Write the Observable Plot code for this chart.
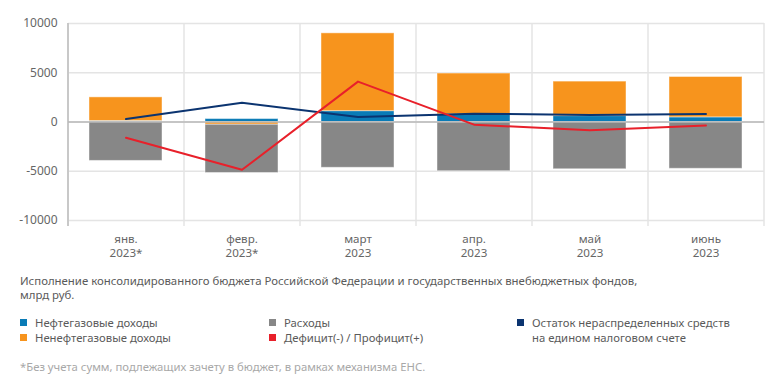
<!DOCTYPE html>
<html>
<head>
<meta charset="utf-8">
<script src="https://cdn.jsdelivr.net/npm/d3@7"></script>
<script src="https://cdn.jsdelivr.net/npm/@observablehq/plot@0.6"></script>
<style>
  body { margin: 0; background: #fff; font-family: "Noto Sans", "Open Sans", sans-serif; }
  #wrap { position: relative; width: 784px; height: 391px; }
  #chart { position: absolute; left: 0; top: 0; }
  .txt { position: absolute; font-size: 11.4px; color: #5a5a5a; white-space: nowrap; line-height: 14px; }
  .leg { position: absolute; font-size: 11.3px; color: #5a5a5a; white-space: nowrap; line-height: 15px; }
  .sw { position: absolute; width: 7px; height: 7px; }
  .note { position: absolute; font-size: 11.3px; color: #a8a8a8; white-space: nowrap; }
</style>
</head>
<body>
<div id="wrap">
  <div id="chart"></div>
</div>
<script>
// ---- data ----
const months = ["янв.\n2023*", "февр.\n2023*", "март\n2023", "апр.\n2023", "май\n2023", "июнь\n2023"];
const oilGas = [100, 300, 1100, 770, 600, 470];          // Нефтегазовые доходы
const nonOilGas = [2400, -280, 7900, 4150, 3500, 4100];  // Ненефтегазовые доходы
const expenses = [-3950, -4900, -4650, -5000, -4800, -4750]; // Расходы
const balance = [-1600, -4850, 4100, -270, -850, -350];  // Дефицит(-) / Профицит(+)
const ens = [300, 1950, 500, 850, 720, 810];             // Остаток на ЕНС
const yTicks = [-10000, -5000, 0, 5000, 10000];

const seriesNames = ["Нефтегазовые доходы", "Ненефтегазовые доходы", "Расходы"];
const seriesColors = ["#0a7bb6", "#f7941d", "#878787"];
const lineColors = {bal: "#e8202a", ens: "#0b3470"};

const bars = [];
months.forEach((m, i) => {
  bars.push({month: m, series: seriesNames[0], value: oilGas[i]});
  bars.push({month: m, series: seriesNames[1], value: nonOilGas[i]});
  bars.push({month: m, series: seriesNames[2], value: expenses[i]});
});
const lines = months.map((m, i) => ({month: m, bal: balance[i], ens: ens[i]}));

const W = 784, H = 262, ML = 68, MR = 20, MT = 23, MB = 42;
const step = (W - ML - MR) / months.length;

const chart = Plot.plot({
  width: W, height: H,
  marginLeft: ML, marginRight: MR, marginTop: MT, marginBottom: MB,
  style: {fontFamily: "'Noto Sans', 'Open Sans', sans-serif", background: "#fff"},
  x: {domain: months, paddingInner: 0.37, paddingOuter: 0.185, axis: null, label: null},
  y: {domain: [-10000, 10000], axis: null, label: null},
  color: {domain: seriesNames, range: seriesColors},
  marks: [
    Plot.gridY(yTicks, {stroke: "#e4e4e4", strokeOpacity: 1, strokeWidth: 1.5}),
    Plot.ruleX(months, {x: d => d, dx: -step / 2, y1: 10000, y2: -10000, insetBottom: -6, stroke: "#e4e4e4", strokeWidth: 1.5}),
    Plot.ruleX(months.slice(-1), {x: d => d, dx: step / 2, y1: 10000, y2: -10000, insetBottom: -6, stroke: "#e4e4e4", strokeWidth: 1.5}),
    Plot.ruleX(months.slice(0, 1), {x: d => d, dx: -step / 2, y1: 10000, y2: -10000, insetBottom: -6, stroke: "#c8c8c8", strokeWidth: 2}),
    Plot.barY(bars, Plot.stackY({x: "month", y: "value", fill: "series", stroke: "#fff", strokeOpacity: 0.45, strokeWidth: 1})),
    Plot.ruleY([0], {stroke: "#b8b8b8", strokeWidth: 1.5}),
    Plot.line(lines, {x: "month", y: "ens", stroke: lineColors.ens, strokeWidth: 2}),
    Plot.line(lines, {x: "month", y: "bal", stroke: lineColors.bal, strokeWidth: 2}),
    Plot.axisY(yTicks, {tickSize: 0, tickPadding: 11, fontSize: 12, fill: "#666", tickFormat: d => String(d), label: null}),
    Plot.axisX({tickSize: 0, tickPadding: 12, fontSize: 11.6, fill: "#666", lineAnchor: "top", lineHeight: 1.22, label: null})
  ]
});
document.getElementById("chart").appendChild(chart);

// ---- caption, legend, footnote ----
const wrap = document.getElementById("wrap");
function addDiv(cls, left, top, html) {
  const d = document.createElement("div");
  d.className = cls;
  d.style.left = left + "px";
  d.style.top = top + "px";
  d.innerHTML = html;
  wrap.appendChild(d);
  return d;
}
addDiv("txt", 20, 274, "Исполнение консолидированного бюджета Российской Федерации и государственных внебюджетных фондов,<br>млрд руб.");

const legendItems = [
  {label: seriesNames[0], color: seriesColors[0], x: 20, y: 323},
  {label: seriesNames[1], color: seriesColors[1], x: 20, y: 338},
  {label: seriesNames[2], color: seriesColors[2], x: 269, y: 323},
  {label: "Дефицит(-) / Профицит(+)", color: lineColors.bal, x: 269, y: 338},
  {label: "Остаток нераспределенных средств<br>на едином налоговом счете", color: lineColors.ens, x: 517, y: 323}
];
legendItems.forEach(it => {
  const s = addDiv("sw", it.x, it.y - 4, "");
  s.style.background = it.color;
  addDiv("leg", it.x + 15, it.y - 8, it.label);
});
addDiv("note", 20, 359, "*Без учета сумм, подлежащих зачету в бюджет, в рамках механизма ЕНС.");
</script>
</body>
</html>
